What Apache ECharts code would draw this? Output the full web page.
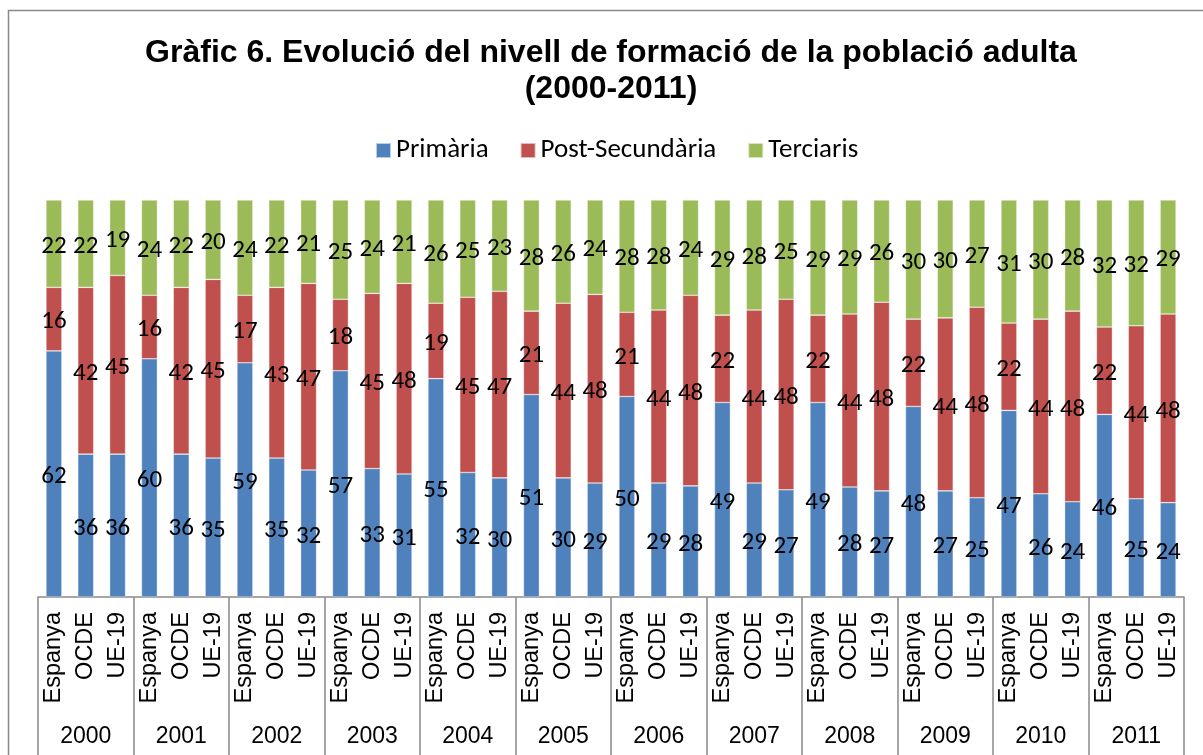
<!DOCTYPE html>
<html>
<head>
<meta charset="utf-8">
<style>
  html, body { margin: 0; padding: 0; background: #fff; }
  #chart { width: 1203px; height: 755px; }
</style>
<script src="https://cdn.jsdelivr.net/npm/echarts@6/dist/echarts.min.js"></script>
</head>
<body>
<div id="chart"></div>
<script>
// dades llegides del gràfic
const years = ['2000', '2001', '2002', '2003', '2004', '2005', '2006', '2007', '2008', '2009', '2010', '2011'];
const regions = ['Espanya', 'OCDE', 'UE-19'];

// ordre: per any, Espanya / OCDE / UE-19
const primaria = [
  62, 36, 36, 60, 36, 35, 59, 35, 32, 57, 33, 31,
  55, 32, 30, 51, 30, 29, 50, 29, 28, 49, 29, 27,
  49, 28, 27, 48, 27, 25, 47, 26, 24, 46, 25, 24,
];
const postSecundaria = [
  16, 42, 45, 16, 42, 45, 17, 43, 47, 18, 45, 48,
  19, 45, 47, 21, 44, 48, 21, 44, 48, 22, 44, 48,
  22, 44, 48, 22, 44, 48, 22, 44, 48, 22, 44, 48,
];
const terciaris = [
  22, 22, 19, 24, 22, 20, 24, 22, 21, 25, 24, 21,
  26, 25, 23, 28, 26, 24, 28, 28, 24, 29, 28, 25,
  29, 29, 26, 30, 30, 27, 31, 30, 28, 32, 32, 29,
];

const categories = years.flatMap(() => regions);
const totals = primaria.map((v, i) => v + postSecundaria[i] + terciaris[i]);

// barres al 100 %, l'etiqueta mostra el valor original
const toPercent = (arr) => arr.map((v, i) => ({ value: v / totals[i] * 100, raw: v }));

const labelFont = 'Carlito, "Noto Sans", sans-serif';
const axisFont = '"Liberation Sans", Arial, sans-serif';

const makeSeries = (name, arr, color) => ({
  name: name,
  type: 'bar',
  stack: 'total',
  xAxisIndex: 0,
  barWidth: '50%',
  data: toPercent(arr),
  itemStyle: {
    color: color,
    borderColor: 'rgba(255,255,255,0.6)',
    borderWidth: 0.6,
  },
  label: {
    show: true,
    position: 'inside',
    offset: [0, 3],
    color: '#000',
    fontFamily: labelFont,
    fontSize: 25,
    formatter: (p) => p.data.raw,
  },
});

const chart = echarts.init(document.getElementById('chart'));

const option = {
  animation: false,
  backgroundColor: '#fff',
  title: {
    text: 'Gràfic 6. Evolució del nivell de formació de la població adulta\n(2000-2011)',
    left: 611,
    textAlign: 'center',
    top: 35,
    padding: 0,
    textStyle: {
      fontFamily: axisFont,
      fontWeight: 'bold',
      fontSize: 32,
      lineHeight: 36,
      color: '#000',
    },
  },
  legend: {
    top: 132,
    left: 370,
    itemWidth: 15,
    itemHeight: 15,
    itemGap: 31,
    icon: 'rect',
    textStyle: {
      fontFamily: labelFont,
      fontSize: 27,
      color: '#000',
    },
    data: ['Primària', 'Post-Secundària', 'Terciaris'],
  },
  grid: {
    left: 38,
    right: 19,
    top: 200,
    bottom: 158,
  },
  xAxis: [
    {
      type: 'category',
      data: categories,
      position: 'bottom',
      axisLine: { show: true, lineStyle: { color: '#898989', width: 1.5 } },
      axisTick: { show: false },
      axisLabel: {
        interval: 0,
        rotate: 90,
        margin: 15,
        fontFamily: axisFont,
        fontSize: 23.5,
        color: '#000',
      },
    },
    {
      type: 'category',
      data: years,
      position: 'bottom',
      axisLine: { show: false },
      axisTick: {
        show: true,
        length: 170,
        lineStyle: { color: '#898989', width: 1.5 },
      },
      axisLabel: {
        interval: 0,
        margin: 128,
        fontFamily: axisFont,
        fontSize: 23,
        color: '#000',
      },
    },
  ],
  yAxis: {
    type: 'value',
    min: 0,
    max: 100,
    show: false,
    splitLine: { show: false },
  },
  graphic: [
    {
      type: 'rect',
      silent: true,
      shape: { x: 8.5, y: 10.5, width: 1400, height: 1000 },
      style: { fill: 'none', stroke: '#898989', lineWidth: 1.5 },
    },
  ],
  series: [
    makeSeries('Primària', primaria, '#4F81BD'),
    makeSeries('Post-Secundària', postSecundaria, '#C0504D'),
    makeSeries('Terciaris', terciaris, '#9BBB59'),
  ],
};

chart.setOption(option);
</script>
</body>
</html>
